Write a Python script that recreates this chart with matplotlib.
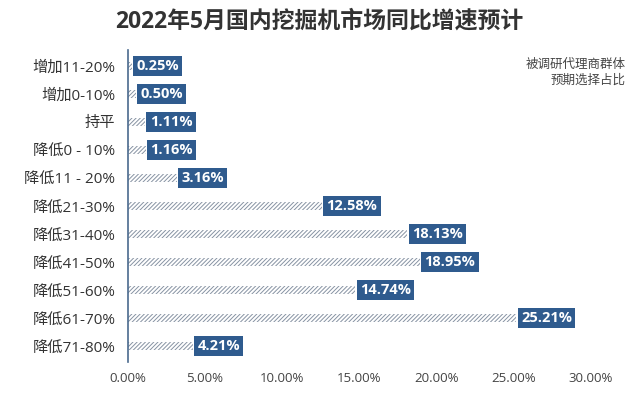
import matplotlib
matplotlib.use('Agg')
import matplotlib.pyplot as plt
from matplotlib.ticker import FuncFormatter

plt.rcParams['font.family'] = ['Open Sans', 'Noto Sans CJK SC', 'DejaVu Sans']
plt.rcParams['hatch.linewidth'] = 0.7

categories = ['增加11-20%', '增加0-10%', '持平', '降低0 - 10%', '降低11 - 20%',
              '降低21-30%', '降低31-40%', '降低41-50%', '降低51-60%',
              '降低61-70%', '降低71-80%']
values = [0.25, 0.50, 1.11, 1.16, 3.16, 12.58, 18.13, 18.95, 14.74, 25.21, 4.21]
xticks = [0, 5, 10, 15, 20, 25, 30]

fig = plt.figure(figsize=(6.43, 3.93), dpi=100)
ax = fig.add_axes([0.199, 0.079, 0.719, 0.794])

pos = list(range(len(categories)))
ax.barh(pos, values, height=0.28, color='none', edgecolor='#8793a3',
        hatch='////////', linewidth=0)

for y, v in zip(pos, values):
    ax.text(v + 0.3, y, '%.2f%%' % v, va='center', ha='left', color='white',
            fontsize=10.5, fontweight='bold',
            bbox=dict(boxstyle='square,pad=0.22', fc='#2f5b8e', ec='none'))

ax.set_yticks(pos)
ax.set_yticklabels(categories, fontsize=11, color='#333333')
ax.set_ylim(len(categories) - 0.43, -0.57)
ax.set_xlim(0, 30)
ax.set_xticks(xticks)
ax.xaxis.set_major_formatter(FuncFormatter(lambda x, p: '%.2f%%' % x))
ax.tick_params(axis='x', length=0, labelsize=9.5, labelcolor='#444444', pad=7)
ax.tick_params(axis='y', length=0, pad=9)

for s in ['top', 'right', 'bottom']:
    ax.spines[s].set_visible(False)
ax.spines['left'].set_color('#4a6a8e')
ax.spines['left'].set_linewidth(1.2)

fig.text(0.497, 0.945, '2022年5月国内挖掘机市场同比增速预计', ha='center', va='center',
         fontsize=16.5, fontweight='bold', color='#333333')
fig.text(0.973, 0.815, '被调研代理商群体\n预期选择占比', ha='right', va='center',
         fontsize=9, color='#444444', linespacing=1.3)

fig.savefig('out.png', dpi=100)
